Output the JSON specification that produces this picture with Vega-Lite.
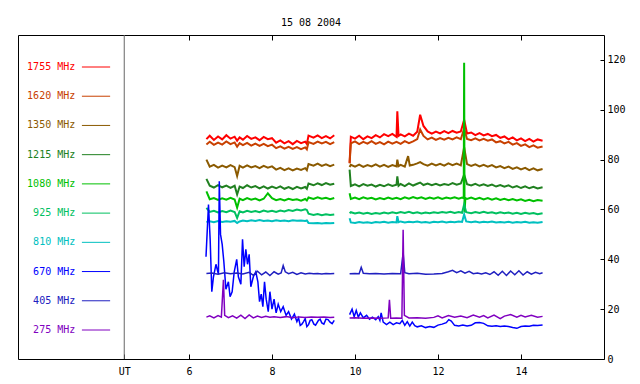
{
"$schema": "https://vega.github.io/schema/vega-lite/v6.json",
"width": 586, "height": 324,
"autosize": {"type": "none"},
"padding": {"left": 18, "top": 35, "right": 36, "bottom": 25},
"title": {"text": "15 08 2004", "font": "DejaVu Sans Mono", "fontSize": 10, "fontWeight": "normal", "color": "black", "anchor": "middle", "offset": 7},
"config": {
  "view": {"stroke": "black", "strokeWidth": 1},
  "axis": {"labelFont": "DejaVu Sans Mono", "labelFontSize": 10, "labelColor": "black", "tickColor": "black", "grid": false, "domain": false},
  "text": {"font": "DejaVu Sans Mono", "fontSize": 10}
},
"datasets": {
"leg": [
{"s":"a","label":"1755 MHz"},{"s":"b","label":"1620 MHz"},{"s":"c","label":"1350 MHz"},{"s":"d","label":"1215 MHz"},{"s":"e","label":"1080 MHz"},
{"s":"f","label":"925 MHz"},{"s":"g","label":"810 MHz"},{"s":"h","label":"670 MHz"},{"s":"i","label":"405 MHz"},{"s":"j","label":"275 MHz"}
],
"main": [
{"s":"a","t":6.42,"v":88.2},{"s":"a","t":6.5,"v":89.6},{"s":"a","t":6.6,"v":87.9},{"s":"a","t":6.7,"v":89.3},{"s":"a","t":6.8,"v":88.1},{"s":"a","t":6.9,"v":89.8},{"s":"a","t":7.0,"v":88.4},{"s":"a","t":7.1,"v":89.2},{"s":"a","t":7.16,"v":87.6},{"s":"a","t":7.22,"v":88.9},{"s":"a","t":7.3,"v":88.0},{"s":"a","t":7.4,"v":89.5},{"s":"a","t":7.5,"v":88.3},{"s":"a","t":7.6,"v":88.9},{"s":"a","t":7.7,"v":87.8},{"s":"a","t":7.8,"v":89.1},{"s":"a","t":7.9,"v":88.2},{"s":"a","t":8.0,"v":88.6},{"s":"a","t":8.1,"v":86.8},{"s":"a","t":8.2,"v":87.7},{"s":"a","t":8.3,"v":86.5},{"s":"a","t":8.4,"v":87.4},{"s":"a","t":8.5,"v":86.2},{"s":"a","t":8.6,"v":87.5},{"s":"a","t":8.7,"v":86.6},{"s":"a","t":8.8,"v":87.2},{"s":"a","t":8.84,"v":86.3},{"s":"a","t":8.88,"v":89.6},{"s":"a","t":9.0,"v":88.8},{"s":"a","t":9.1,"v":89.7},{"s":"a","t":9.2,"v":88.6},{"s":"a","t":9.3,"v":89.4},{"s":"a","t":9.4,"v":88.5},{"s":"a","t":9.5,"v":89.8},
{"s":"a","t":9.7,"v":null},
{"s":"a","t":9.87,"v":78.7},{"s":"a","t":9.9,"v":89.2},{"s":"a","t":10.0,"v":88.4},{"s":"a","t":10.1,"v":89.6},{"s":"a","t":10.2,"v":88.2},{"s":"a","t":10.3,"v":89.3},{"s":"a","t":10.4,"v":88.6},{"s":"a","t":10.5,"v":89.8},{"s":"a","t":10.6,"v":88.9},{"s":"a","t":10.7,"v":90.2},{"s":"a","t":10.8,"v":89.4},{"s":"a","t":10.9,"v":90.3},{"s":"a","t":11.0,"v":89.1},{"s":"a","t":11.02,"v":99.4},{"s":"a","t":11.05,"v":89.5},{"s":"a","t":11.1,"v":90.1},{"s":"a","t":11.2,"v":89.3},{"s":"a","t":11.3,"v":90.4},{"s":"a","t":11.4,"v":89.6},{"s":"a","t":11.5,"v":91.2},{"s":"a","t":11.57,"v":98.0},{"s":"a","t":11.65,"v":93.5},{"s":"a","t":11.75,"v":91.3},{"s":"a","t":11.85,"v":90.4},{"s":"a","t":11.95,"v":91.2},{"s":"a","t":12.05,"v":90.5},{"s":"a","t":12.15,"v":91.4},{"s":"a","t":12.25,"v":90.6},{"s":"a","t":12.35,"v":91.5},{"s":"a","t":12.45,"v":90.8},{"s":"a","t":12.55,"v":91.3},{"s":"a","t":12.63,"v":96.0},{"s":"a","t":12.7,"v":90.5},{"s":"a","t":12.8,"v":90.9},{"s":"a","t":12.9,"v":89.8},{"s":"a","t":13.0,"v":90.6},{"s":"a","t":13.1,"v":89.7},{"s":"a","t":13.2,"v":90.3},{"s":"a","t":13.3,"v":89.4},{"s":"a","t":13.4,"v":89.9},{"s":"a","t":13.5,"v":88.7},{"s":"a","t":13.6,"v":89.3},{"s":"a","t":13.7,"v":88.1},{"s":"a","t":13.8,"v":88.9},{"s":"a","t":13.9,"v":87.7},{"s":"a","t":14.0,"v":88.5},{"s":"a","t":14.1,"v":87.4},{"s":"a","t":14.2,"v":88.3},{"s":"a","t":14.3,"v":87.2},{"s":"a","t":14.4,"v":88.1},{"s":"a","t":14.52,"v":87.6},

{"s":"b","t":6.42,"v":86.1},{"s":"b","t":6.5,"v":87.2},{"s":"b","t":6.6,"v":85.9},{"s":"b","t":6.7,"v":86.8},{"s":"b","t":6.8,"v":86.0},{"s":"b","t":6.9,"v":87.3},{"s":"b","t":7.0,"v":86.2},{"s":"b","t":7.1,"v":86.9},{"s":"b","t":7.16,"v":85.2},{"s":"b","t":7.22,"v":86.6},{"s":"b","t":7.3,"v":85.8},{"s":"b","t":7.4,"v":86.7},{"s":"b","t":7.5,"v":85.6},{"s":"b","t":7.6,"v":86.4},{"s":"b","t":7.7,"v":85.5},{"s":"b","t":7.8,"v":86.3},{"s":"b","t":7.9,"v":85.4},{"s":"b","t":8.0,"v":86.0},{"s":"b","t":8.1,"v":84.6},{"s":"b","t":8.2,"v":85.3},{"s":"b","t":8.3,"v":84.4},{"s":"b","t":8.4,"v":85.1},{"s":"b","t":8.5,"v":84.3},{"s":"b","t":8.6,"v":85.0},{"s":"b","t":8.7,"v":84.2},{"s":"b","t":8.8,"v":84.9},{"s":"b","t":8.84,"v":84.1},{"s":"b","t":8.88,"v":87.0},{"s":"b","t":9.0,"v":86.3},{"s":"b","t":9.1,"v":87.2},{"s":"b","t":9.2,"v":86.5},{"s":"b","t":9.3,"v":87.1},{"s":"b","t":9.4,"v":86.2},{"s":"b","t":9.5,"v":87.0},
{"s":"b","t":9.7,"v":null},
{"s":"b","t":9.87,"v":78.5},{"s":"b","t":9.9,"v":86.5},{"s":"b","t":10.0,"v":87.3},{"s":"b","t":10.1,"v":86.2},{"s":"b","t":10.2,"v":87.1},{"s":"b","t":10.3,"v":86.4},{"s":"b","t":10.4,"v":87.4},{"s":"b","t":10.5,"v":86.3},{"s":"b","t":10.6,"v":87.0},{"s":"b","t":10.7,"v":86.1},{"s":"b","t":10.8,"v":87.2},{"s":"b","t":10.9,"v":86.4},{"s":"b","t":11.0,"v":87.1},{"s":"b","t":11.1,"v":86.3},{"s":"b","t":11.2,"v":87.4},{"s":"b","t":11.3,"v":86.6},{"s":"b","t":11.4,"v":87.3},{"s":"b","t":11.5,"v":88.2},{"s":"b","t":11.57,"v":92.1},{"s":"b","t":11.65,"v":89.5},{"s":"b","t":11.75,"v":88.1},{"s":"b","t":11.85,"v":88.8},{"s":"b","t":11.95,"v":87.9},{"s":"b","t":12.05,"v":88.6},{"s":"b","t":12.15,"v":88.0},{"s":"b","t":12.25,"v":88.7},{"s":"b","t":12.35,"v":88.1},{"s":"b","t":12.45,"v":88.9},{"s":"b","t":12.55,"v":88.2},{"s":"b","t":12.63,"v":92.5},{"s":"b","t":12.7,"v":88.3},{"s":"b","t":12.8,"v":87.8},{"s":"b","t":12.9,"v":88.5},{"s":"b","t":13.0,"v":87.7},{"s":"b","t":13.1,"v":88.3},{"s":"b","t":13.2,"v":87.6},{"s":"b","t":13.3,"v":88.1},{"s":"b","t":13.4,"v":86.9},{"s":"b","t":13.5,"v":87.4},{"s":"b","t":13.6,"v":86.5},{"s":"b","t":13.7,"v":87.1},{"s":"b","t":13.8,"v":86.0},{"s":"b","t":13.9,"v":86.6},{"s":"b","t":14.0,"v":85.5},{"s":"b","t":14.1,"v":86.1},{"s":"b","t":14.2,"v":85.0},{"s":"b","t":14.3,"v":85.7},{"s":"b","t":14.4,"v":84.8},{"s":"b","t":14.52,"v":85.3},

{"s":"c","t":6.42,"v":80.0},{"s":"c","t":6.5,"v":77.2},{"s":"c","t":6.6,"v":77.9},{"s":"c","t":6.7,"v":76.8},{"s":"c","t":6.8,"v":77.6},{"s":"c","t":6.9,"v":76.9},{"s":"c","t":7.0,"v":77.8},{"s":"c","t":7.1,"v":77.0},{"s":"c","t":7.16,"v":73.4},{"s":"c","t":7.22,"v":77.5},{"s":"c","t":7.3,"v":76.8},{"s":"c","t":7.4,"v":77.7},{"s":"c","t":7.5,"v":76.9},{"s":"c","t":7.6,"v":77.4},{"s":"c","t":7.7,"v":76.6},{"s":"c","t":7.8,"v":77.5},{"s":"c","t":7.9,"v":76.8},{"s":"c","t":8.0,"v":77.3},{"s":"c","t":8.1,"v":76.0},{"s":"c","t":8.2,"v":76.7},{"s":"c","t":8.3,"v":75.8},{"s":"c","t":8.4,"v":76.5},{"s":"c","t":8.5,"v":75.7},{"s":"c","t":8.6,"v":76.4},{"s":"c","t":8.7,"v":75.9},{"s":"c","t":8.8,"v":76.6},{"s":"c","t":8.84,"v":75.8},{"s":"c","t":8.88,"v":78.2},{"s":"c","t":9.0,"v":77.6},{"s":"c","t":9.1,"v":78.4},{"s":"c","t":9.2,"v":77.5},{"s":"c","t":9.3,"v":78.1},{"s":"c","t":9.4,"v":77.4},{"s":"c","t":9.5,"v":78.0},
{"s":"c","t":9.7,"v":null},
{"s":"c","t":9.87,"v":77.0},{"s":"c","t":9.9,"v":77.9},{"s":"c","t":10.0,"v":77.2},{"s":"c","t":10.1,"v":78.0},{"s":"c","t":10.2,"v":77.1},{"s":"c","t":10.3,"v":77.8},{"s":"c","t":10.4,"v":77.3},{"s":"c","t":10.5,"v":78.1},{"s":"c","t":10.6,"v":77.2},{"s":"c","t":10.7,"v":77.9},{"s":"c","t":10.8,"v":77.1},{"s":"c","t":10.9,"v":77.8},{"s":"c","t":11.0,"v":77.3},{"s":"c","t":11.02,"v":80.0},{"s":"c","t":11.05,"v":77.4},{"s":"c","t":11.1,"v":77.9},{"s":"c","t":11.2,"v":77.2},{"s":"c","t":11.28,"v":81.4},{"s":"c","t":11.32,"v":77.6},{"s":"c","t":11.4,"v":77.9},{"s":"c","t":11.5,"v":78.5},{"s":"c","t":11.57,"v":79.0},{"s":"c","t":11.65,"v":78.2},{"s":"c","t":11.75,"v":77.6},{"s":"c","t":11.85,"v":78.4},{"s":"c","t":11.95,"v":77.7},{"s":"c","t":12.05,"v":78.3},{"s":"c","t":12.15,"v":77.6},{"s":"c","t":12.25,"v":78.5},{"s":"c","t":12.35,"v":77.8},{"s":"c","t":12.45,"v":78.4},{"s":"c","t":12.55,"v":77.7},{"s":"c","t":12.63,"v":85.0},{"s":"c","t":12.7,"v":78.2},{"s":"c","t":12.8,"v":77.5},{"s":"c","t":12.9,"v":78.1},{"s":"c","t":13.0,"v":77.3},{"s":"c","t":13.1,"v":77.9},{"s":"c","t":13.2,"v":77.2},{"s":"c","t":13.3,"v":77.8},{"s":"c","t":13.4,"v":76.9},{"s":"c","t":13.5,"v":77.4},{"s":"c","t":13.6,"v":76.6},{"s":"c","t":13.7,"v":77.2},{"s":"c","t":13.8,"v":76.3},{"s":"c","t":13.9,"v":76.9},{"s":"c","t":14.0,"v":76.1},{"s":"c","t":14.1,"v":76.7},{"s":"c","t":14.2,"v":75.8},{"s":"c","t":14.3,"v":76.5},{"s":"c","t":14.4,"v":75.7},{"s":"c","t":14.52,"v":76.2},

{"s":"d","t":6.42,"v":72.3},{"s":"d","t":6.5,"v":69.5},{"s":"d","t":6.6,"v":68.8},{"s":"d","t":6.7,"v":69.8},{"s":"d","t":6.8,"v":68.9},{"s":"d","t":6.9,"v":69.6},{"s":"d","t":7.0,"v":68.7},{"s":"d","t":7.1,"v":69.5},{"s":"d","t":7.16,"v":66.0},{"s":"d","t":7.22,"v":69.2},{"s":"d","t":7.3,"v":68.6},{"s":"d","t":7.4,"v":69.7},{"s":"d","t":7.5,"v":68.8},{"s":"d","t":7.6,"v":69.4},{"s":"d","t":7.7,"v":68.5},{"s":"d","t":7.8,"v":69.3},{"s":"d","t":7.9,"v":68.4},{"s":"d","t":8.0,"v":69.2},{"s":"d","t":8.1,"v":68.5},{"s":"d","t":8.2,"v":69.3},{"s":"d","t":8.3,"v":68.3},{"s":"d","t":8.4,"v":69.0},{"s":"d","t":8.5,"v":68.2},{"s":"d","t":8.6,"v":69.1},{"s":"d","t":8.7,"v":68.4},{"s":"d","t":8.8,"v":69.0},{"s":"d","t":8.84,"v":68.3},{"s":"d","t":8.88,"v":70.4},{"s":"d","t":9.0,"v":69.7},{"s":"d","t":9.1,"v":70.5},{"s":"d","t":9.2,"v":69.8},{"s":"d","t":9.3,"v":70.6},{"s":"d","t":9.4,"v":69.9},{"s":"d","t":9.5,"v":70.3},
{"s":"d","t":9.7,"v":null},
{"s":"d","t":9.87,"v":76.0},{"s":"d","t":9.9,"v":69.4},{"s":"d","t":10.0,"v":70.1},{"s":"d","t":10.1,"v":69.3},{"s":"d","t":10.2,"v":70.2},{"s":"d","t":10.3,"v":69.5},{"s":"d","t":10.4,"v":70.0},{"s":"d","t":10.5,"v":69.2},{"s":"d","t":10.6,"v":69.9},{"s":"d","t":10.7,"v":69.3},{"s":"d","t":10.8,"v":70.1},{"s":"d","t":10.9,"v":69.4},{"s":"d","t":11.0,"v":69.9},{"s":"d","t":11.02,"v":73.3},{"s":"d","t":11.05,"v":69.5},{"s":"d","t":11.1,"v":70.2},{"s":"d","t":11.2,"v":69.4},{"s":"d","t":11.3,"v":70.5},{"s":"d","t":11.4,"v":69.6},{"s":"d","t":11.5,"v":70.3},{"s":"d","t":11.57,"v":70.8},{"s":"d","t":11.65,"v":69.8},{"s":"d","t":11.75,"v":70.4},{"s":"d","t":11.85,"v":69.7},{"s":"d","t":11.95,"v":70.3},{"s":"d","t":12.05,"v":69.6},{"s":"d","t":12.15,"v":70.2},{"s":"d","t":12.25,"v":69.8},{"s":"d","t":12.35,"v":70.6},{"s":"d","t":12.45,"v":69.9},{"s":"d","t":12.55,"v":70.4},{"s":"d","t":12.63,"v":74.0},{"s":"d","t":12.7,"v":70.1},{"s":"d","t":12.8,"v":69.6},{"s":"d","t":12.9,"v":70.3},{"s":"d","t":13.0,"v":69.5},{"s":"d","t":13.1,"v":70.1},{"s":"d","t":13.2,"v":69.4},{"s":"d","t":13.3,"v":70.0},{"s":"d","t":13.4,"v":69.2},{"s":"d","t":13.5,"v":69.8},{"s":"d","t":13.6,"v":69.1},{"s":"d","t":13.7,"v":69.7},{"s":"d","t":13.8,"v":68.8},{"s":"d","t":13.9,"v":69.4},{"s":"d","t":14.0,"v":68.6},{"s":"d","t":14.1,"v":69.3},{"s":"d","t":14.2,"v":68.5},{"s":"d","t":14.3,"v":69.1},{"s":"d","t":14.4,"v":68.4},{"s":"d","t":14.52,"v":68.9},

{"s":"e","t":6.42,"v":67.3},{"s":"e","t":6.5,"v":64.1},{"s":"e","t":6.6,"v":64.6},{"s":"e","t":6.7,"v":63.8},{"s":"e","t":6.8,"v":64.5},{"s":"e","t":6.9,"v":63.9},{"s":"e","t":7.0,"v":64.7},{"s":"e","t":7.1,"v":64.0},{"s":"e","t":7.16,"v":60.7},{"s":"e","t":7.22,"v":64.3},{"s":"e","t":7.3,"v":63.7},{"s":"e","t":7.4,"v":64.6},{"s":"e","t":7.5,"v":63.9},{"s":"e","t":7.6,"v":64.4},{"s":"e","t":7.7,"v":63.6},{"s":"e","t":7.8,"v":64.3},{"s":"e","t":7.9,"v":66.5},{"s":"e","t":8.0,"v":64.5},{"s":"e","t":8.1,"v":63.7},{"s":"e","t":8.2,"v":64.2},{"s":"e","t":8.3,"v":63.6},{"s":"e","t":8.4,"v":64.3},{"s":"e","t":8.5,"v":63.8},{"s":"e","t":8.6,"v":64.1},{"s":"e","t":8.7,"v":63.5},{"s":"e","t":8.8,"v":64.2},{"s":"e","t":8.84,"v":63.6},{"s":"e","t":8.88,"v":64.8},{"s":"e","t":9.0,"v":64.2},{"s":"e","t":9.1,"v":64.9},{"s":"e","t":9.2,"v":64.3},{"s":"e","t":9.3,"v":64.7},{"s":"e","t":9.4,"v":64.1},{"s":"e","t":9.5,"v":64.6},
{"s":"e","t":9.7,"v":null},
{"s":"e","t":9.87,"v":66.5},{"s":"e","t":9.9,"v":64.2},{"s":"e","t":10.0,"v":64.8},{"s":"e","t":10.1,"v":64.1},{"s":"e","t":10.2,"v":64.9},{"s":"e","t":10.3,"v":64.3},{"s":"e","t":10.4,"v":64.7},{"s":"e","t":10.5,"v":64.0},{"s":"e","t":10.6,"v":64.6},{"s":"e","t":10.7,"v":64.1},{"s":"e","t":10.8,"v":64.8},{"s":"e","t":10.9,"v":64.2},{"s":"e","t":11.0,"v":64.7},{"s":"e","t":11.1,"v":64.1},{"s":"e","t":11.2,"v":64.9},{"s":"e","t":11.3,"v":64.3},{"s":"e","t":11.4,"v":65.0},{"s":"e","t":11.5,"v":64.4},{"s":"e","t":11.6,"v":64.9},{"s":"e","t":11.7,"v":64.2},{"s":"e","t":11.8,"v":64.8},{"s":"e","t":11.9,"v":64.3},{"s":"e","t":12.0,"v":64.9},{"s":"e","t":12.1,"v":64.2},{"s":"e","t":12.2,"v":64.8},{"s":"e","t":12.3,"v":64.4},{"s":"e","t":12.4,"v":64.9},{"s":"e","t":12.5,"v":64.3},{"s":"e","t":12.58,"v":64.8},{"s":"e","t":12.62,"v":64.5},{"s":"e","t":12.63,"v":118.9},{"s":"e","t":12.64,"v":58.8},{"s":"e","t":12.66,"v":64.6},{"s":"e","t":12.7,"v":64.2},{"s":"e","t":12.8,"v":64.8},{"s":"e","t":12.9,"v":64.1},{"s":"e","t":13.0,"v":64.7},{"s":"e","t":13.1,"v":64.0},{"s":"e","t":13.2,"v":64.6},{"s":"e","t":13.3,"v":63.9},{"s":"e","t":13.4,"v":64.5},{"s":"e","t":13.5,"v":63.8},{"s":"e","t":13.6,"v":64.3},{"s":"e","t":13.7,"v":63.7},{"s":"e","t":13.8,"v":64.2},{"s":"e","t":13.9,"v":63.6},{"s":"e","t":14.0,"v":64.1},{"s":"e","t":14.1,"v":63.4},{"s":"e","t":14.2,"v":63.9},{"s":"e","t":14.3,"v":63.3},{"s":"e","t":14.4,"v":63.8},{"s":"e","t":14.52,"v":63.5},

{"s":"f","t":6.42,"v":60.6},{"s":"f","t":6.5,"v":59.0},{"s":"f","t":6.6,"v":59.5},{"s":"f","t":6.7,"v":58.8},{"s":"f","t":6.8,"v":59.4},{"s":"f","t":6.9,"v":58.9},{"s":"f","t":7.0,"v":59.6},{"s":"f","t":7.1,"v":59.0},{"s":"f","t":7.16,"v":56.6},{"s":"f","t":7.22,"v":59.3},{"s":"f","t":7.3,"v":58.8},{"s":"f","t":7.4,"v":59.5},{"s":"f","t":7.5,"v":59.0},{"s":"f","t":7.6,"v":59.4},{"s":"f","t":7.7,"v":58.9},{"s":"f","t":7.8,"v":59.6},{"s":"f","t":7.9,"v":59.1},{"s":"f","t":8.0,"v":59.5},{"s":"f","t":8.1,"v":59.0},{"s":"f","t":8.2,"v":59.6},{"s":"f","t":8.3,"v":59.2},{"s":"f","t":8.4,"v":59.8},{"s":"f","t":8.5,"v":59.4},{"s":"f","t":8.6,"v":60.0},{"s":"f","t":8.7,"v":59.6},{"s":"f","t":8.8,"v":60.1},{"s":"f","t":8.84,"v":59.8},{"s":"f","t":8.88,"v":58.3},{"s":"f","t":9.0,"v":57.8},{"s":"f","t":9.1,"v":58.2},{"s":"f","t":9.2,"v":57.7},{"s":"f","t":9.3,"v":58.1},{"s":"f","t":9.4,"v":57.8},{"s":"f","t":9.5,"v":58.0},
{"s":"f","t":9.7,"v":null},
{"s":"f","t":9.87,"v":58.5},{"s":"f","t":9.9,"v":58.9},{"s":"f","t":10.0,"v":58.4},{"s":"f","t":10.1,"v":58.8},{"s":"f","t":10.2,"v":58.3},{"s":"f","t":10.3,"v":58.7},{"s":"f","t":10.4,"v":58.2},{"s":"f","t":10.5,"v":58.6},{"s":"f","t":10.6,"v":58.3},{"s":"f","t":10.7,"v":58.8},{"s":"f","t":10.8,"v":58.4},{"s":"f","t":10.9,"v":58.9},{"s":"f","t":11.0,"v":58.5},{"s":"f","t":11.1,"v":59.0},{"s":"f","t":11.2,"v":58.6},{"s":"f","t":11.3,"v":59.1},{"s":"f","t":11.4,"v":58.5},{"s":"f","t":11.5,"v":58.9},{"s":"f","t":11.6,"v":58.4},{"s":"f","t":11.7,"v":58.8},{"s":"f","t":11.8,"v":58.5},{"s":"f","t":11.9,"v":58.9},{"s":"f","t":12.0,"v":58.6},{"s":"f","t":12.1,"v":59.0},{"s":"f","t":12.2,"v":58.7},{"s":"f","t":12.3,"v":59.1},{"s":"f","t":12.4,"v":58.6},{"s":"f","t":12.5,"v":59.0},{"s":"f","t":12.58,"v":58.7},{"s":"f","t":12.63,"v":62.0},{"s":"f","t":12.68,"v":58.9},{"s":"f","t":12.8,"v":58.5},{"s":"f","t":12.9,"v":59.0},{"s":"f","t":13.0,"v":58.6},{"s":"f","t":13.1,"v":59.1},{"s":"f","t":13.2,"v":58.6},{"s":"f","t":13.3,"v":58.9},{"s":"f","t":13.4,"v":58.4},{"s":"f","t":13.5,"v":58.9},{"s":"f","t":13.6,"v":58.5},{"s":"f","t":13.7,"v":58.8},{"s":"f","t":13.8,"v":58.3},{"s":"f","t":13.9,"v":58.7},{"s":"f","t":14.0,"v":58.2},{"s":"f","t":14.1,"v":58.7},{"s":"f","t":14.2,"v":58.3},{"s":"f","t":14.3,"v":58.6},{"s":"f","t":14.4,"v":58.1},{"s":"f","t":14.52,"v":58.5},

{"s":"g","t":6.42,"v":55.0},{"s":"g","t":6.5,"v":55.3},{"s":"g","t":6.6,"v":54.9},{"s":"g","t":6.7,"v":55.4},{"s":"g","t":6.8,"v":55.0},{"s":"g","t":6.9,"v":55.3},{"s":"g","t":7.0,"v":55.1},{"s":"g","t":7.1,"v":55.4},{"s":"g","t":7.16,"v":54.6},{"s":"g","t":7.22,"v":55.2},{"s":"g","t":7.3,"v":55.6},{"s":"g","t":7.4,"v":55.3},{"s":"g","t":7.5,"v":55.7},{"s":"g","t":7.6,"v":55.4},{"s":"g","t":7.7,"v":55.8},{"s":"g","t":7.8,"v":55.4},{"s":"g","t":7.9,"v":55.6},{"s":"g","t":8.0,"v":55.3},{"s":"g","t":8.1,"v":55.7},{"s":"g","t":8.2,"v":55.4},{"s":"g","t":8.3,"v":55.6},{"s":"g","t":8.4,"v":55.3},{"s":"g","t":8.5,"v":55.7},{"s":"g","t":8.6,"v":55.5},{"s":"g","t":8.7,"v":55.6},{"s":"g","t":8.8,"v":55.4},{"s":"g","t":8.84,"v":55.6},{"s":"g","t":8.88,"v":54.6},{"s":"g","t":9.0,"v":54.5},{"s":"g","t":9.1,"v":54.6},{"s":"g","t":9.2,"v":54.4},{"s":"g","t":9.3,"v":54.6},{"s":"g","t":9.4,"v":54.5},{"s":"g","t":9.5,"v":54.6},
{"s":"g","t":9.7,"v":null},
{"s":"g","t":9.87,"v":56.5},{"s":"g","t":9.9,"v":54.8},{"s":"g","t":10.0,"v":54.6},{"s":"g","t":10.1,"v":55.0},{"s":"g","t":10.2,"v":54.7},{"s":"g","t":10.3,"v":54.9},{"s":"g","t":10.4,"v":54.6},{"s":"g","t":10.5,"v":55.0},{"s":"g","t":10.6,"v":54.8},{"s":"g","t":10.7,"v":55.1},{"s":"g","t":10.8,"v":54.7},{"s":"g","t":10.9,"v":55.0},{"s":"g","t":11.0,"v":54.8},{"s":"g","t":11.02,"v":57.3},{"s":"g","t":11.05,"v":54.9},{"s":"g","t":11.1,"v":55.2},{"s":"g","t":11.2,"v":54.8},{"s":"g","t":11.3,"v":55.1},{"s":"g","t":11.4,"v":54.9},{"s":"g","t":11.5,"v":55.2},{"s":"g","t":11.6,"v":54.8},{"s":"g","t":11.7,"v":55.0},{"s":"g","t":11.8,"v":54.7},{"s":"g","t":11.9,"v":55.1},{"s":"g","t":12.0,"v":54.9},{"s":"g","t":12.1,"v":55.2},{"s":"g","t":12.2,"v":54.8},{"s":"g","t":12.3,"v":55.1},{"s":"g","t":12.4,"v":54.9},{"s":"g","t":12.5,"v":55.2},{"s":"g","t":12.58,"v":55.0},{"s":"g","t":12.63,"v":58.0},{"s":"g","t":12.68,"v":55.2},{"s":"g","t":12.8,"v":54.9},{"s":"g","t":12.9,"v":55.2},{"s":"g","t":13.0,"v":54.8},{"s":"g","t":13.1,"v":55.1},{"s":"g","t":13.2,"v":54.9},{"s":"g","t":13.3,"v":55.2},{"s":"g","t":13.4,"v":54.8},{"s":"g","t":13.5,"v":55.0},{"s":"g","t":13.6,"v":54.8},{"s":"g","t":13.7,"v":55.1},{"s":"g","t":13.8,"v":54.7},{"s":"g","t":13.9,"v":55.0},{"s":"g","t":14.0,"v":54.8},{"s":"g","t":14.1,"v":55.1},{"s":"g","t":14.2,"v":54.7},{"s":"g","t":14.3,"v":54.9},{"s":"g","t":14.4,"v":54.7},{"s":"g","t":14.52,"v":55.0},

{"s":"h","t":6.41,"v":41},{"s":"h","t":6.47,"v":62},{"s":"h","t":6.51,"v":48},{"s":"h","t":6.55,"v":27},{"s":"h","t":6.59,"v":33},{"s":"h","t":6.65,"v":38},{"s":"h","t":6.71,"v":34},{"s":"h","t":6.73,"v":71.3},{"s":"h","t":6.76,"v":50},{"s":"h","t":6.8,"v":46},{"s":"h","t":6.84,"v":39},{"s":"h","t":6.89,"v":28},{"s":"h","t":6.95,"v":31},{"s":"h","t":6.99,"v":25},{"s":"h","t":7.04,"v":27},{"s":"h","t":7.09,"v":35},{"s":"h","t":7.15,"v":40},{"s":"h","t":7.19,"v":33},{"s":"h","t":7.25,"v":30},{"s":"h","t":7.29,"v":48},{"s":"h","t":7.33,"v":37},{"s":"h","t":7.37,"v":44},{"s":"h","t":7.41,"v":38},{"s":"h","t":7.45,"v":42},{"s":"h","t":7.49,"v":29},{"s":"h","t":7.55,"v":33},{"s":"h","t":7.61,"v":35},{"s":"h","t":7.66,"v":31},{"s":"h","t":7.7,"v":23},{"s":"h","t":7.74,"v":26},{"s":"h","t":7.78,"v":21},{"s":"h","t":7.82,"v":31},{"s":"h","t":7.86,"v":24},{"s":"h","t":7.91,"v":19},{"s":"h","t":7.95,"v":27},{"s":"h","t":8.0,"v":20},{"s":"h","t":8.05,"v":24},{"s":"h","t":8.1,"v":18.5},{"s":"h","t":8.15,"v":22},{"s":"h","t":8.21,"v":19},{"s":"h","t":8.27,"v":21},{"s":"h","t":8.34,"v":17.5},{"s":"h","t":8.4,"v":19},{"s":"h","t":8.47,"v":16},{"s":"h","t":8.54,"v":18},{"s":"h","t":8.6,"v":15},{"s":"h","t":8.64,"v":16.5},{"s":"h","t":8.68,"v":13.5},{"s":"h","t":8.72,"v":14},{"s":"h","t":8.76,"v":15},{"s":"h","t":8.8,"v":16.2},{"s":"h","t":8.84,"v":13},{"s":"h","t":8.88,"v":13.8},{"s":"h","t":8.92,"v":15.5},{"s":"h","t":8.96,"v":15.8},{"s":"h","t":9.01,"v":14},{"s":"h","t":9.05,"v":13.6},{"s":"h","t":9.12,"v":15.5},{"s":"h","t":9.16,"v":16},{"s":"h","t":9.2,"v":14.5},{"s":"h","t":9.25,"v":14},{"s":"h","t":9.3,"v":16},{"s":"h","t":9.35,"v":15.8},{"s":"h","t":9.4,"v":14.8},{"s":"h","t":9.45,"v":14.2},{"s":"h","t":9.5,"v":15.5},
{"s":"h","t":9.7,"v":null},
{"s":"h","t":9.87,"v":17.8},{"s":"h","t":9.93,"v":20},{"s":"h","t":9.98,"v":17},{"s":"h","t":10.03,"v":19.5},{"s":"h","t":10.08,"v":16.8},{"s":"h","t":10.13,"v":18.5},{"s":"h","t":10.2,"v":16.5},{"s":"h","t":10.28,"v":17.5},{"s":"h","t":10.35,"v":16},{"s":"h","t":10.42,"v":16.8},{"s":"h","t":10.5,"v":15.8},{"s":"h","t":10.56,"v":17},{"s":"h","t":10.6,"v":15.5},{"s":"h","t":10.63,"v":18.5},{"s":"h","t":10.68,"v":14.8},{"s":"h","t":10.76,"v":13.8},{"s":"h","t":10.84,"v":14.8},{"s":"h","t":10.92,"v":13.8},{"s":"h","t":11.0,"v":14.5},{"s":"h","t":11.08,"v":14.2},{"s":"h","t":11.14,"v":15.5},{"s":"h","t":11.2,"v":13.5},{"s":"h","t":11.26,"v":15},{"s":"h","t":11.32,"v":13.2},{"s":"h","t":11.38,"v":14.8},{"s":"h","t":11.44,"v":13.4},{"s":"h","t":11.5,"v":12.9},{"s":"h","t":11.6,"v":13.3},{"s":"h","t":11.7,"v":12.6},{"s":"h","t":11.8,"v":13},{"s":"h","t":11.9,"v":12.7},{"s":"h","t":12.0,"v":13.6},{"s":"h","t":12.1,"v":14},{"s":"h","t":12.2,"v":14.6},{"s":"h","t":12.26,"v":15.8},{"s":"h","t":12.32,"v":15.2},{"s":"h","t":12.4,"v":13.5},{"s":"h","t":12.5,"v":13.2},{"s":"h","t":12.6,"v":13.6},{"s":"h","t":12.7,"v":13.2},{"s":"h","t":12.8,"v":13.5},{"s":"h","t":12.9,"v":14.5},{"s":"h","t":13.0,"v":14.6},{"s":"h","t":13.1,"v":14.3},{"s":"h","t":13.2,"v":13.3},{"s":"h","t":13.3,"v":13.1},{"s":"h","t":13.4,"v":13.3},{"s":"h","t":13.5,"v":13},{"s":"h","t":13.6,"v":13.2},{"s":"h","t":13.7,"v":13},{"s":"h","t":13.8,"v":12.6},{"s":"h","t":13.9,"v":12.3},{"s":"h","t":14.0,"v":13},{"s":"h","t":14.1,"v":13.2},{"s":"h","t":14.2,"v":13.1},{"s":"h","t":14.3,"v":13.5},{"s":"h","t":14.4,"v":13.4},{"s":"h","t":14.52,"v":13.6},

{"s":"i","t":6.42,"v":34.3},{"s":"i","t":6.55,"v":34.5},{"s":"i","t":6.7,"v":34.0},{"s":"i","t":6.85,"v":34.6},{"s":"i","t":7.0,"v":34.2},{"s":"i","t":7.15,"v":34.5},{"s":"i","t":7.3,"v":34.1},{"s":"i","t":7.45,"v":34.8},{"s":"i","t":7.55,"v":33.6},{"s":"i","t":7.65,"v":35.2},{"s":"i","t":7.75,"v":33.8},{"s":"i","t":7.85,"v":34.9},{"s":"i","t":7.95,"v":33.5},{"s":"i","t":8.05,"v":35.0},{"s":"i","t":8.15,"v":34.0},{"s":"i","t":8.22,"v":34.5},{"s":"i","t":8.27,"v":37.5},{"s":"i","t":8.32,"v":35.0},{"s":"i","t":8.4,"v":34.2},{"s":"i","t":8.5,"v":34.8},{"s":"i","t":8.6,"v":33.9},{"s":"i","t":8.7,"v":34.6},{"s":"i","t":8.8,"v":34.1},{"s":"i","t":8.9,"v":34.4},{"s":"i","t":9.0,"v":34.2},{"s":"i","t":9.1,"v":34.3},{"s":"i","t":9.2,"v":34.1},{"s":"i","t":9.3,"v":34.3},{"s":"i","t":9.4,"v":34.2},{"s":"i","t":9.5,"v":34.3},
{"s":"i","t":9.7,"v":null},
{"s":"i","t":9.87,"v":34.2},{"s":"i","t":10.0,"v":34.3},{"s":"i","t":10.1,"v":34.2},{"s":"i","t":10.15,"v":36.8},{"s":"i","t":10.2,"v":34.4},{"s":"i","t":10.35,"v":34.2},{"s":"i","t":10.5,"v":34.3},{"s":"i","t":10.7,"v":34.1},{"s":"i","t":10.9,"v":34.3},{"s":"i","t":11.1,"v":34.2},{"s":"i","t":11.16,"v":42.6},{"s":"i","t":11.2,"v":34.6},{"s":"i","t":11.3,"v":34.2},{"s":"i","t":11.5,"v":34.4},{"s":"i","t":11.7,"v":34.0},{"s":"i","t":11.9,"v":34.1},{"s":"i","t":12.1,"v":34.3},{"s":"i","t":12.25,"v":35.0},{"s":"i","t":12.35,"v":35.6},{"s":"i","t":12.45,"v":34.6},{"s":"i","t":12.55,"v":35.4},{"s":"i","t":12.65,"v":34.4},{"s":"i","t":12.75,"v":35.2},{"s":"i","t":12.85,"v":34.2},{"s":"i","t":12.95,"v":34.5},{"s":"i","t":13.05,"v":34.1},{"s":"i","t":13.15,"v":34.6},{"s":"i","t":13.25,"v":33.9},{"s":"i","t":13.35,"v":35.0},{"s":"i","t":13.45,"v":33.6},{"s":"i","t":13.55,"v":35.2},{"s":"i","t":13.65,"v":33.5},{"s":"i","t":13.75,"v":35.3},{"s":"i","t":13.85,"v":33.8},{"s":"i","t":13.95,"v":35.4},{"s":"i","t":14.05,"v":33.7},{"s":"i","t":14.15,"v":35.0},{"s":"i","t":14.25,"v":34.0},{"s":"i","t":14.35,"v":34.8},{"s":"i","t":14.45,"v":34.2},{"s":"i","t":14.52,"v":34.6},

{"s":"j","t":6.42,"v":16.8},{"s":"j","t":6.5,"v":17.3},{"s":"j","t":6.6,"v":16.5},{"s":"j","t":6.7,"v":17.4},{"s":"j","t":6.78,"v":16.8},{"s":"j","t":6.83,"v":31.8},{"s":"j","t":6.86,"v":17.5},{"s":"j","t":6.95,"v":16.6},{"s":"j","t":7.05,"v":17.3},{"s":"j","t":7.15,"v":16.4},{"s":"j","t":7.25,"v":17.6},{"s":"j","t":7.35,"v":16.2},{"s":"j","t":7.45,"v":17.7},{"s":"j","t":7.55,"v":16.5},{"s":"j","t":7.65,"v":17.2},{"s":"j","t":7.75,"v":16.7},{"s":"j","t":7.85,"v":17.1},{"s":"j","t":7.95,"v":16.8},{"s":"j","t":8.05,"v":17.0},{"s":"j","t":8.2,"v":16.7},{"s":"j","t":8.35,"v":17.0},{"s":"j","t":8.5,"v":16.6},{"s":"j","t":8.65,"v":16.9},{"s":"j","t":8.8,"v":16.7},{"s":"j","t":8.95,"v":16.9},{"s":"j","t":9.1,"v":16.8},{"s":"j","t":9.25,"v":16.9},{"s":"j","t":9.4,"v":16.7},{"s":"j","t":9.5,"v":16.8},
{"s":"j","t":9.7,"v":null},
{"s":"j","t":9.87,"v":16.5},{"s":"j","t":10.0,"v":16.6},{"s":"j","t":10.2,"v":16.4},{"s":"j","t":10.4,"v":16.5},{"s":"j","t":10.6,"v":16.4},{"s":"j","t":10.8,"v":16.5},{"s":"j","t":10.83,"v":23.8},{"s":"j","t":10.86,"v":16.4},{"s":"j","t":11.0,"v":16.5},{"s":"j","t":11.13,"v":16.4},{"s":"j","t":11.16,"v":51.9},{"s":"j","t":11.19,"v":17.5},{"s":"j","t":11.3,"v":16.5},{"s":"j","t":11.5,"v":16.6},{"s":"j","t":11.7,"v":16.4},{"s":"j","t":11.9,"v":16.7},{"s":"j","t":12.0,"v":17.3},{"s":"j","t":12.1,"v":16.5},{"s":"j","t":12.25,"v":17.4},{"s":"j","t":12.4,"v":16.8},{"s":"j","t":12.55,"v":17.2},{"s":"j","t":12.7,"v":16.6},{"s":"j","t":12.85,"v":17.6},{"s":"j","t":13.0,"v":16.8},{"s":"j","t":13.1,"v":17.4},{"s":"j","t":13.2,"v":16.5},{"s":"j","t":13.35,"v":17.6},{"s":"j","t":13.5,"v":16.2},{"s":"j","t":13.6,"v":17.2},{"s":"j","t":13.75,"v":17.8},{"s":"j","t":13.9,"v":16.8},{"s":"j","t":14.0,"v":17.5},{"s":"j","t":14.1,"v":16.9},{"s":"j","t":14.25,"v":17.5},{"s":"j","t":14.4,"v":16.8},{"s":"j","t":14.52,"v":17.1}
]
},
"layer": [
  {
    "data": {"name": "leg"},
    "transform": [{"filter": "datum.s === 'a'"}],
    "mark": {"type": "rule", "color": "#666666", "strokeWidth": 1},
    "encoding": {
      "x": {"datum": 4.44, "type": "quantitative", "scale": {"domain": [1.88, 16], "nice": false, "zero": false},
            "axis": {"orient": "top", "values": [6, 8, 10, 12, 14], "labels": false, "tickSize": -5, "title": null}}
    }
  },
  {
    "data": {"name": "main"},
    "transform": [{"filter": "indexof(['a','b','c','d','e','f','g'], datum.s) >= 0"}],
    "mark": {"type": "line", "strokeWidth": 2, "invalid": "break-paths-show-domains"},
    "encoding": {
      "x": {"field": "t", "type": "quantitative", "scale": {"domain": [1.88, 16], "nice": false, "zero": false},
            "axis": {"orient": "bottom", "values": [4.44, 6, 8, 10, 12, 14], "labelExpr": "datum.value < 5 ? 'UT' : datum.label", "tickSize": -5, "labelPadding": 12, "title": null}},
      "y": {"field": "v", "type": "quantitative", "scale": {"domain": [0, 130], "nice": false},
            "axis": {"orient": "right", "values": [0, 20, 40, 60, 80, 100, 120], "tickSize": -4, "labelPadding": 7, "title": null}},
      "color": {"field": "s", "type": "nominal", "legend": null,
                "scale": {"domain": ["a","b","c","d","e","f","g","h","i","j"], "range": ["#ff0000","#c84000","#8b5a00","#208020","#00c000","#00c060","#00c0c0","#0000ff","#2020c0","#8000c0"]}}
    }
  },
  {
    "data": {"name": "main"},
    "transform": [{"filter": "indexof(['h','i','j'], datum.s) >= 0"}],
    "mark": {"type": "line", "strokeWidth": 1.5, "invalid": "break-paths-show-domains"},
    "encoding": {
      "x": {"field": "t", "type": "quantitative", "axis": null},
      "y": {"field": "v", "type": "quantitative", "scale": {"domain": [0, 130], "nice": false}, "axis": null},
      "color": {"field": "s", "type": "nominal", "legend": null}
    }
  },
  {
    "data": {"name": "leg"},
    "mark": {"type": "text", "align": "right", "baseline": "middle", "font": "DejaVu Sans Mono", "fontSize": 10},
    "encoding": {
      "x": {"datum": 3.26, "type": "quantitative", "axis": null},
      "y": {"field": "s", "type": "nominal", "scale": {"type": "point", "domain": ["a","b","c","d","e","f","g","h","i","j"], "range": [32, 295], "padding": 0}, "axis": null},
      "text": {"field": "label"},
      "color": {"field": "s", "type": "nominal", "legend": null}
    }
  },
  {
    "data": {"name": "leg"},
    "mark": {"type": "rule", "strokeWidth": 1},
    "encoding": {
      "x": {"datum": 3.42, "type": "quantitative", "axis": null},
      "x2": {"datum": 4.1},
      "y": {"field": "s", "type": "nominal", "scale": {"type": "point", "domain": ["a","b","c","d","e","f","g","h","i","j"], "range": [32, 295], "padding": 0}, "axis": null},
      "color": {"field": "s", "type": "nominal", "legend": null}
    }
  }
],
"resolve": {"scale": {"y": "independent"}, "axis": {"x": "independent", "y": "independent"}}
}
